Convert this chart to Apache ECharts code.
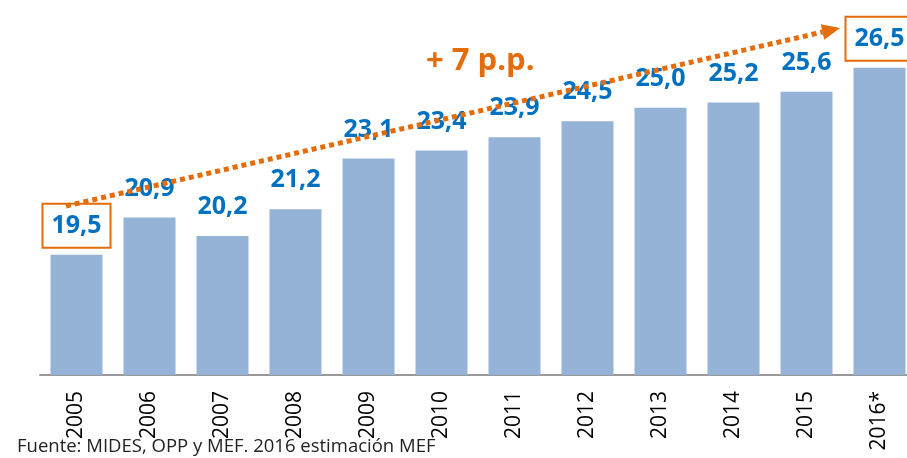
<!DOCTYPE html>
<html>
<head>
<meta charset="utf-8">
<script src="https://cdn.jsdelivr.net/npm/echarts@6/dist/echarts.min.js"></script>
<style>
  html, body { margin: 0; padding: 0; background: #fff; }
  #chart { width: 907px; height: 458px; }
</style>
</head>
<body>
<div id="chart"></div>
<script>
// años y valores (%)
const years = ['2005', '2006', '2007', '2008', '2009', '2010', '2011', '2012', '2013', '2014', '2015', '2016*'];
const values = [19.5, 20.9, 20.2, 21.2, 23.1, 23.4, 23.9, 24.5, 25.0, 25.2, 25.6, 26.5];
const boxed = ['2005', '2016*']; // etiquetas con recuadro naranja
const note = '+ 7 p.p.';
const source = 'Fuente: MIDES, OPP y MEF. 2016 estimación MEF';

const orange = '#E46C0A';
const font = 'Open Sans';

const chart = echarts.init(document.getElementById('chart'));

const barData = values.map((v, i) => {
  const item = { value: v };
  if (boxed.includes(years[i])) {
    item.label = {
      borderColor: orange,
      borderWidth: 2,
      padding: [7, 9],
      distance: 7
    };
  }
  return item;
});

// flecha punteada (anotación)
const p0 = [66, 206], tip = [840, 28];
const dx = tip[0] - p0[0], dy = tip[1] - p0[1];
const len = Math.sqrt(dx * dx + dy * dy);
const ux = dx / len, uy = dy / len;
const base = [tip[0] - 18 * ux, tip[1] - 18 * uy];

const option = {
  animation: false,
  title: {
    text: source,
    left: 12,
    bottom: -3,
    textStyle: { fontFamily: font, fontWeight: 'normal', fontSize: 18.5, color: '#222' }
  },
  grid: { left: 40, width: 876, top: 1, bottom: 83, outerBoundsMode: 'none', containLabel: false },
  xAxis: {
    type: 'category',
    data: years,
    axisLine: { lineStyle: { color: '#999', width: 2 } },
    axisTick: { show: false },
    axisLabel: { rotate: 90, margin: 16, fontSize: 21, color: '#000', fontFamily: font }
  },
  yAxis: {
    type: 'value',
    min: 15,
    max: 29,
    show: false,
    splitLine: { show: false }
  },
  series: [{
    type: 'bar',
    data: barData,
    barWidth: 52,
    itemStyle: { color: '#95B3D7' },
    label: {
      show: true,
      position: 'top',
      distance: 14,
      fontFamily: font,
      fontWeight: 'bold',
      fontSize: 25,
      lineHeight: 30,
      color: '#0070C0',
      formatter: p => p.value.toFixed(1).replace('.', ',')
    }
  }],
  graphic: [
    {
      type: 'line',
      z: 100,
      shape: { x1: p0[0], y1: p0[1], x2: base[0], y2: base[1] },
      style: { stroke: orange, lineWidth: 5, lineDash: [5, 4], lineCap: 'butt' }
    },
    {
      type: 'polygon',
      z: 100,
      shape: {
        points: [
          tip,
          [base[0] + 8 * uy, base[1] - 8 * ux],
          [base[0] - 8 * uy, base[1] + 8 * ux]
        ]
      },
      style: { fill: orange }
    },
    {
      type: 'text',
      z: 100,
      left: 426,
      top: 46,
      style: { text: note, fontFamily: font, fontWeight: 'bold', fontSize: 31, fill: orange }
    }
  ]
};

chart.setOption(option);
</script>
</body>
</html>
